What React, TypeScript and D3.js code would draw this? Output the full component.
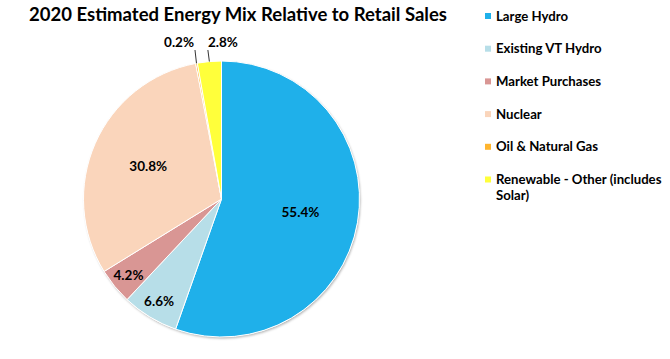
import * as d3 from "d3";
import { useRef, useEffect } from "react";

const title = "2020 Estimated Energy Mix Relative to Retail Sales";
const sources = [
  "Large Hydro",
  "Existing VT Hydro",
  "Market Purchases",
  "Nuclear",
  "Oil & Natural Gas",
  "Renewable - Other (includes Solar)"
];
const shares = [55.4, 6.6, 4.2, 30.8, 0.2, 2.8];
const colors = ["#1fb0ea", "#b7dee8", "#d99694", "#fad5bb", "#ffb52e", "#ffff3b"];

const width = 670;
const height = 359;
const font = "Lato, 'Open Sans', sans-serif";

function wrap(label: string, maxChars: number) {
  const lines: string[] = [];
  let cur = "";
  label.split(" ").forEach(w => {
    const next = cur ? cur + " " + w : w;
    if (next.length > maxChars && cur) {
      lines.push(cur);
      cur = w;
    } else cur = next;
  });
  if (cur) lines.push(cur);
  return lines;
}

function PieChart() {
  const svgRef = useRef<SVGSVGElement>(null);

  useEffect(() => {
    const svg = d3.select(svgRef.current);
    svg.selectAll("*").remove();

    const cx = 221.5;
    const cy = 199;
    const r = 138;

    const defs = svg.append("defs");
    const f = defs.append("filter").attr("id", "shadow").attr("x", "-10%").attr("y", "-10%").attr("width", "120%").attr("height", "120%");
    f.append("feDropShadow").attr("dx", 1).attr("dy", 1.5).attr("stdDeviation", 1.2).attr("flood-color", "#000").attr("flood-opacity", 0.3);

    svg.append("text")
      .attr("x", 238)
      .attr("y", 21)
      .attr("text-anchor", "middle")
      .attr("font-family", font)
      .attr("font-weight", 700)
      .attr("font-size", 18)
      .attr("textLength", 418)
      .attr("lengthAdjust", "spacingAndGlyphs")
      .text(title);

    const data = sources.map((s, i) => ({ name: s, value: shares[i], color: colors[i] }));
    const pie = d3.pie<any>().value(d => d.value).sort(null);
    const arcs = pie(data);
    const arc = d3.arc<any>().innerRadius(0).outerRadius(r);

    const g = svg.append("g").attr("transform", `translate(${cx},${cy})`);
    g.append("circle").attr("r", r).attr("fill", "#fff").attr("filter", "url(#shadow)");
    g.selectAll("path.slice")
      .data(arcs)
      .join("path")
      .attr("class", "slice")
      .attr("d", arc)
      .attr("fill", d => d.data.color)
      .attr("stroke", "#fff")
      .attr("stroke-width", 1);

    const fmt = (v: number) => v.toFixed(1) + "%";
    const inside = arcs.filter(d => d.data.value >= 3);
    const outside = arcs.filter(d => d.data.value < 3);

    // big slices get their label nearer the middle, thin ones near the rim
    g.selectAll("text.in")
      .data(inside)
      .join("text")
      .attr("class", "in")
      .attr("transform", d => {
        const k = d.data.value >= 20 ? 0.58 : 0.87;
        const [x, y] = d3.arc<any>().innerRadius(r * k).outerRadius(r * k).centroid(d);
        return `translate(${x},${y})`;
      })
      .attr("text-anchor", "middle")
      .attr("dy", "0.35em")
      .attr("font-family", font)
      .attr("font-weight", 700)
      .attr("font-size", 13.5)
      .text(d => fmt(d.data.value));

    outside.forEach(d => {
      const a = (d.startAngle + d.endAngle) / 2;
      const p0 = [Math.sin(a) * r, -Math.cos(a) * r];
      const p1 = [Math.sin(a) * r - 1.5, -r - 11];
      g.append("line")
        .attr("x1", p0[0]).attr("y1", p0[1])
        .attr("x2", p1[0]).attr("y2", p1[1])
        .attr("stroke", "#000")
        .attr("stroke-width", 0.8);
      const left = d.data.value < 1;
      g.append("text")
        .attr("x", p1[0] + (left ? -1 : 0))
        .attr("y", p1[1] - 3)
        .attr("text-anchor", left ? "end" : "start")
        .attr("font-family", font)
        .attr("font-weight", 700)
        .attr("font-size", 13.5)
        .text(fmt(d.data.value));
    });

    const legend = svg.append("g").attr("transform", "translate(485,16)");
    const row = legend.selectAll("g")
      .data(data)
      .join("g")
      .attr("transform", (d, i) => `translate(0,${i * 32.7})`);
    row.append("rect")
      .attr("x", 0).attr("y", -3)
      .attr("width", 6).attr("height", 6)
      .attr("fill", d => d.color);
    const t = row.append("text")
      .attr("x", 11)
      .attr("y", 0)
      .attr("font-family", font)
      .attr("font-weight", 700)
      .attr("font-size", 13.2);
    t.selectAll("tspan")
      .data(d => wrap(d.name, 28))
      .join("tspan")
      .attr("x", 11)
      .attr("dy", (d, i) => (i === 0 ? "0.35em" : "16"))
      .text(d => d);
  }, []);

  return <svg ref={svgRef} width={width} height={height} style={{ display: "block" }} />;
}

export default function App() {
  return (
    <div style={{ position: "absolute", left: 0, top: 0, background: "#fff" }}>
      <PieChart />
    </div>
  );
}
